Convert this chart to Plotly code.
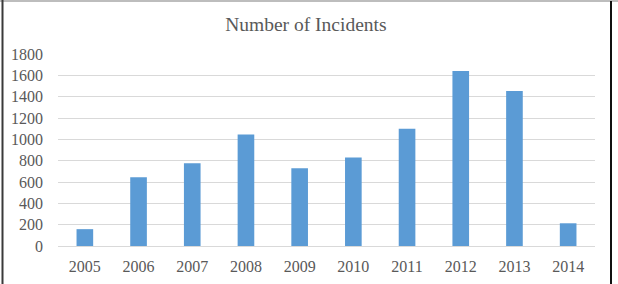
import plotly.graph_objects as go

years = ["2005", "2006", "2007", "2008", "2009", "2010", "2011", "2012", "2013", "2014"]
incidents = [158, 645, 776, 1046, 729, 830, 1099, 1640, 1452, 213]
y_ticks = [0, 200, 400, 600, 800, 1000, 1200, 1400, 1600, 1800]

W, H = 618, 284
L, R, T, B = 58, 23, 54, 38

FONT = "Liberation Serif"

fig = go.Figure(go.Bar(x=years, y=incidents, marker=dict(color="#5B9BD5", line=dict(width=0)),
                       width=0.31))

def px_x(p):
    return (p - L) / (W - L - R)

def px_y(p):
    return (H - B - p) / (H - T - B)

shapes = [
    dict(type="line", xref="paper", yref="paper", x0=px_x(0), x1=px_x(W), y0=px_y(1), y1=px_y(1),
         line=dict(color="#BDBDBD", width=2)),
    dict(type="line", xref="paper", yref="paper", x0=px_x(2.5), x1=px_x(2.5), y0=px_y(0), y1=px_y(H + 5),
         line=dict(color="#3A3A3A", width=2)),
    dict(type="line", xref="paper", yref="paper", x0=px_x(611), x1=px_x(611), y0=px_y(1), y1=px_y(H + 5),
         line=dict(color="#111111", width=2)),
]

fig.update_layout(
    width=W, height=H,
    margin=dict(l=L, r=R, t=T, b=B, pad=0, autoexpand=False),
    paper_bgcolor="white", plot_bgcolor="white",
    font=dict(family=FONT, color="#595959", size=16),
    title=dict(text="Number of Incidents", x=0.495, xanchor="center", y=1 - 24 / H, yanchor="middle",
               yref="container", font=dict(family=FONT, size=19.5, color="#595959")),
    showlegend=False,
    bargap=0.69,
    shapes=shapes,
    xaxis=dict(showgrid=False, showline=True, linecolor="#D9D9D9", linewidth=1, ticks="",
               automargin=False, ticklabelstandoff=6,
               tickfont=dict(family=FONT, size=16, color="#595959"), fixedrange=True),
    yaxis=dict(range=[0, 1800], tickvals=y_ticks, showgrid=True, gridcolor="#D9D9D9", gridwidth=1,
               zeroline=False, showline=False, ticks="", automargin=False, ticklabelstandoff=14,
               tickfont=dict(family=FONT, size=16, color="#595959"), fixedrange=True),
)

fig.write_html("out.html")
